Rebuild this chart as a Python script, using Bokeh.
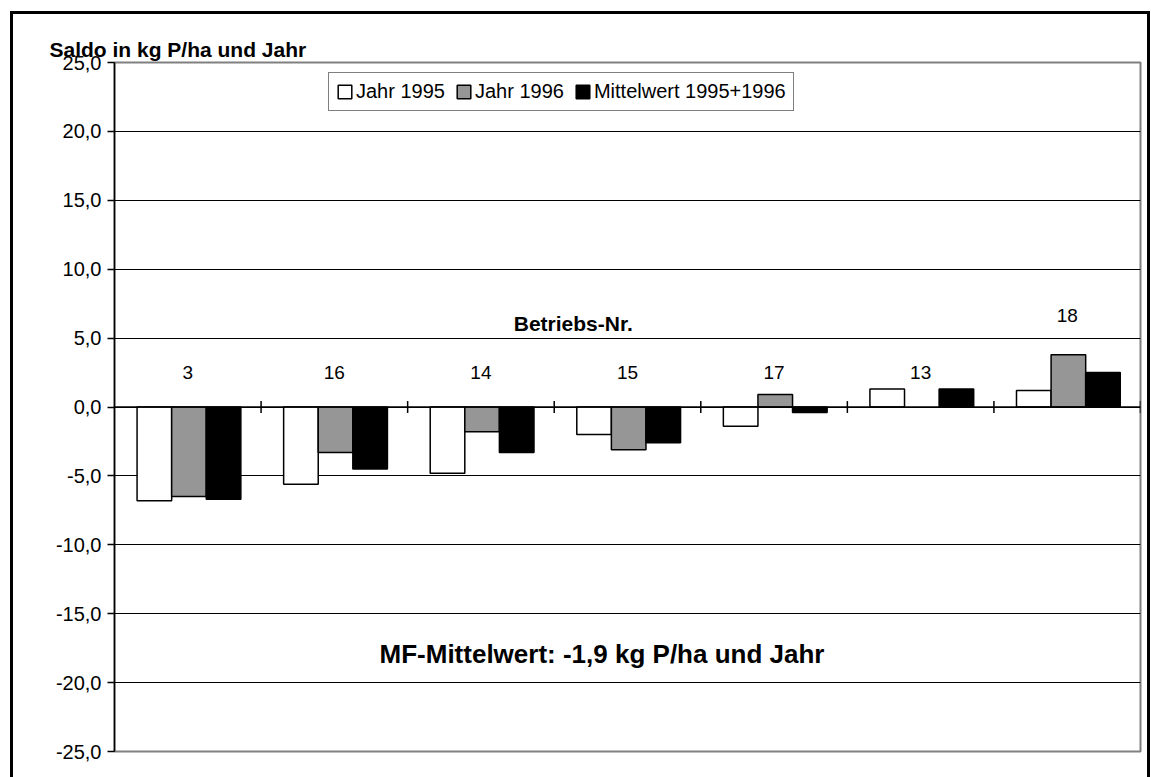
from bokeh.plotting import figure
from bokeh.models import (ColumnDataSource, Span, Legend, LegendItem, Label,
                          FixedTicker)
from bokeh.core.properties import value
from bokeh.embed import file_html
from bokeh.resources import INLINE
import numpy as np

# ---- data ----
betriebe = ["3", "16", "14", "15", "17", "13", "18"]
jahr_1995 = [-6.8, -5.6, -4.8, -2.0, -1.4, 1.3, 1.2]
jahr_1996 = [-6.5, -3.3, -1.8, -3.1, 0.9, np.nan, 3.8]
mittelwert = [-6.7, -4.5, -3.3, -2.6, -0.4, 1.3, 2.5]
series_names = ["Jahr 1995", "Jahr 1996", "Mittelwert 1995+1996"]
y_ticks = [-25, -20, -15, -10, -5, 0, 5, 10, 15, 20, 25]
y_tick_labels = ["-25,0", "-20,0", "-15,0", "-10,0", "-5,0", "0,0", "5,0",
                 "10,0", "15,0", "20,0", "25,0"]
y_title = "Saldo in kg P/ha und Jahr"
x_title = "Betriebs-Nr."
note = "MF-Mittelwert: -1,9 kg P/ha und Jahr"

FONT = "Liberation Sans"
n = len(betriebe)
centers = np.arange(n) + 0.5

p = figure(width=1151, height=777, x_range=(0, n), y_range=(-25, 25),
           output_backend="svg", toolbar_location=None, x_axis_location=None,
           min_border_left=114, min_border_right=11, min_border_top=62,
           min_border_bottom=26)
p.background_fill_color = "white"
p.border_fill_alpha = 0
p.outline_line_color = "#808080"
p.outline_line_width = 2
# outer chart frame (black lines left, top, right) drawn as page background
p.styles = {
    "background": ("linear-gradient(#000,#000) 10px 11px / 3px 800px no-repeat, "
                   "linear-gradient(#000,#000) 10px 11px / 1140px 3px no-repeat, "
                   "linear-gradient(#000,#000) 1147px 11px / 3px 800px no-repeat, "
                   "#fff"),
}

# y-axis title
p.title.text = y_title
p.title.align = "left"
p.title.offset = -65
p.title.standoff = 4
p.title.text_font = FONT
p.title.text_font_size = "21px"
p.title.text_font_style = "bold"
p.title.text_color = "black"

# y axis
ax = p.yaxis[0]
ax.ticker = FixedTicker(ticks=y_ticks)
ax.major_label_overrides = {t: l for t, l in zip(y_ticks, y_tick_labels)}
ax.major_label_text_font = FONT
ax.major_label_text_font_size = "20px"
ax.major_label_text_color = "black"
ax.major_tick_out = 7
ax.major_tick_in = 0
ax.minor_tick_out = 0
ax.minor_tick_in = 0
ax.major_label_standoff = 6
ax.axis_line_color = "black"
ax.axis_line_width = 1.5
ax.major_tick_line_color = "black"
ax.major_tick_line_width = 1.5

p.xgrid.visible = False
p.ygrid.ticker = FixedTicker(ticks=y_ticks[:-1])
p.ygrid.grid_line_color = "black"
p.ygrid.grid_line_width = 1.2

# bars
bw = 0.236
gc = 0.508
offsets = [gc - bw, gc, gc + bw]
fills = ["white", "#969696", "black"]
renderers = []
for vals, off, fc in zip([jahr_1995, jahr_1996, mittelwert], offsets, fills):
    src = ColumnDataSource(dict(x=np.arange(n) + off, top=vals))
    r = p.vbar(x="x", top="top", bottom=0, width=bw, source=src,
               fill_color=fc, line_color="black", line_width=1.5)
    renderers.append(r)

# category axis at zero
p.add_layout(Span(location=0, dimension="width", line_color="black",
                  line_width=1.5))
bounds = np.arange(1, n + 1)
p.segment(x0=bounds, x1=bounds, y0=[-0.43] * n, y1=[0.43] * n,
          line_color="black", line_width=1.5)

# category labels
all_vals = np.array([jahr_1995, jahr_1996, mittelwert], dtype=float)
mx = np.nanmax(all_vals, axis=0)
label_y = np.where(mx > 2.5, mx + 2.85, 2.5)
p.text(x=centers, y=label_y, text=betriebe, text_font=value(FONT),
       text_font_size="19px", text_align="center", text_baseline="middle",
       text_color="black")

# notes inside the plot area
p.add_layout(Label(x=3.13, y=6.06, text=x_title, text_font=FONT,
                   text_color="black",
                   text_font_size="21px", text_font_style="bold",
                   text_align="center", text_baseline="alphabetic"))
p.add_layout(Label(x=3.326, y=-17.89, text=note, text_font=FONT,
                   text_color="black",
                   text_font_size="26px", text_font_style="bold",
                   text_align="center", text_baseline="alphabetic"))

# legend
legend = Legend(items=[LegendItem(label=nm, renderers=[r])
                       for nm, r in zip(series_names, renderers)],
                orientation="horizontal", location=(214, 640))
legend.label_text_font = FONT
legend.label_text_font_size = "20px"
legend.label_text_color = "black"
legend.glyph_width = 17
legend.glyph_height = 17
legend.label_height = 22
legend.label_standoff = 3
legend.spacing = 10
legend.padding = 7
legend.margin = 0
legend.border_line_color = "black"
legend.border_line_width = 1.5
legend.background_fill_color = "white"
legend.background_fill_alpha = 1
p.add_layout(legend, "center")

open("out.html", "w").write(file_html(p, INLINE))
